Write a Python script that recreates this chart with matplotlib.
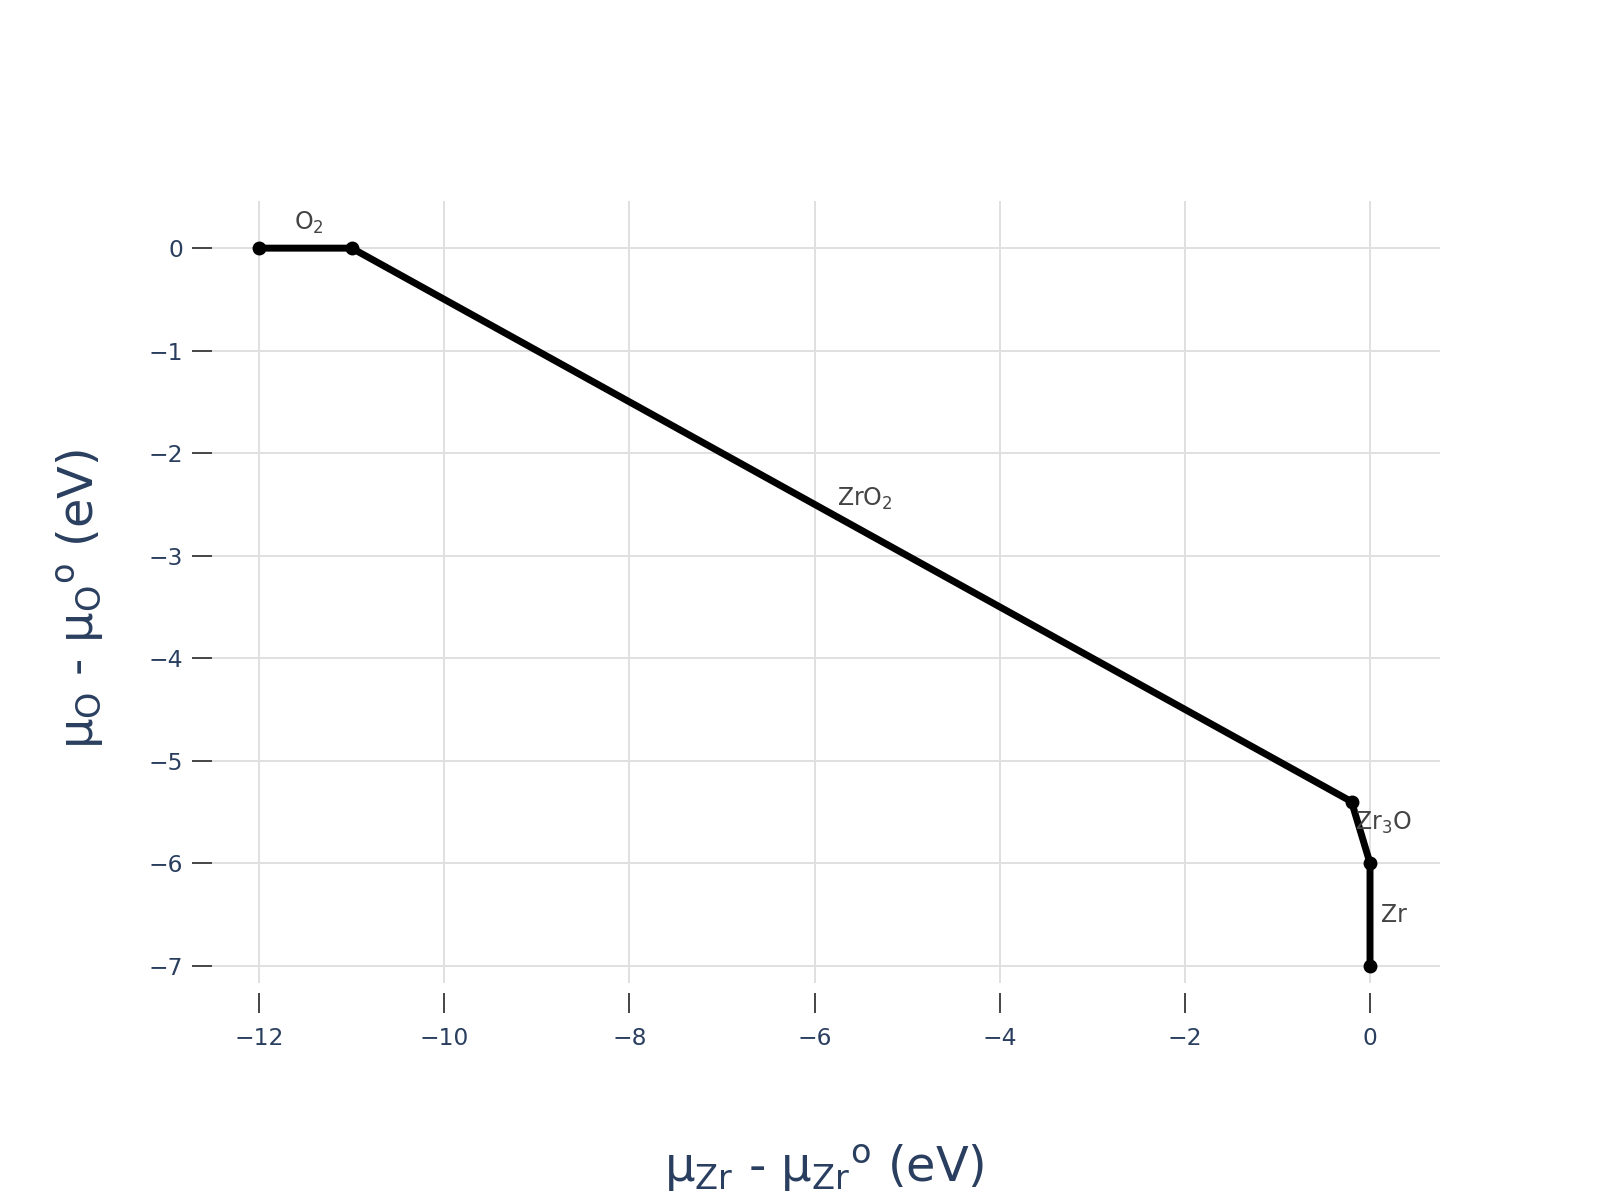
import matplotlib.pyplot as plt

plt.rcParams['font.family'] = ['DejaVu Sans']
plt.rcParams['mathtext.fontset'] = 'dejavusans'
plt.rcParams['mathtext.default'] = 'regular'

# phase boundary vertices (mu_Zr, mu_O)
mu_zr = [-12, -11, -0.2, 0, 0]
mu_o = [0, 0, -5.4, -6, -7]

# phase labels and where they sit
phases = ['O$_2$', 'ZrO$_2$', 'Zr$_3$O', 'Zr']
label_x = [-11.46, -5.46, 0.14, 0.26]
label_y = [0.25, -2.45, -5.61, -6.51]

xticks = [-12, -10, -8, -6, -4, -2, 0]
yticks = [0, -1, -2, -3, -4, -5, -6, -7]

fig = plt.figure(figsize=(16, 12), dpi=100)
ax = fig.add_axes([0.1325, 0.1808, 0.9 - 0.1325, 0.8325 - 0.1808])

ax.plot(mu_zr, mu_o, color='black', lw=5, marker='o', ms=9, zorder=3)

for txt, x, y in zip(phases, label_x, label_y):
    ax.text(x, y, txt, ha='center', va='center', fontsize=17, color='#444444', zorder=4)

ax.set_xlim(-12.51, 0.756)
ax.set_ylim(-7.17, 0.46)
ax.set_xticks(xticks)
ax.set_yticks(yticks)
ax.set_xticklabels(['\u2212' + str(-t) if t < 0 else str(t) for t in xticks])
ax.set_yticklabels(['\u2212' + str(-t) if t < 0 else str(t) for t in yticks])

for s in ax.spines.values():
    s.set_visible(False)
ax.spines['bottom'].set_position(('outward', 7.2))

ax.grid(True, color='#e0e0e0', lw=1.4, zorder=0)
ax.set_axisbelow(True)
ax.tick_params(axis='both', direction='out', length=14.4, width=1.4, color='#444444',
               labelcolor='#2a3f5f', labelsize=16.8)
ax.tick_params(axis='y', pad=6.5)
ax.tick_params(axis='x', pad=10)

fig.text(824 / 1600, 1 - 1168 / 1200, r'$\mu_{Zr}$ - $\mu_{Zr}$$^{o}$ (eV)',
         ha='center', va='center', fontsize=34.5, color='#2a3f5f')
fig.text(80 / 1600, 1 - 599 / 1200, r'$\mu_{O}$ - $\mu_{O}$$^{o}$ (eV)',
         ha='center', va='center', rotation=90, fontsize=34.5, color='#2a3f5f')

fig.savefig('out.png', dpi=100, facecolor='white')
